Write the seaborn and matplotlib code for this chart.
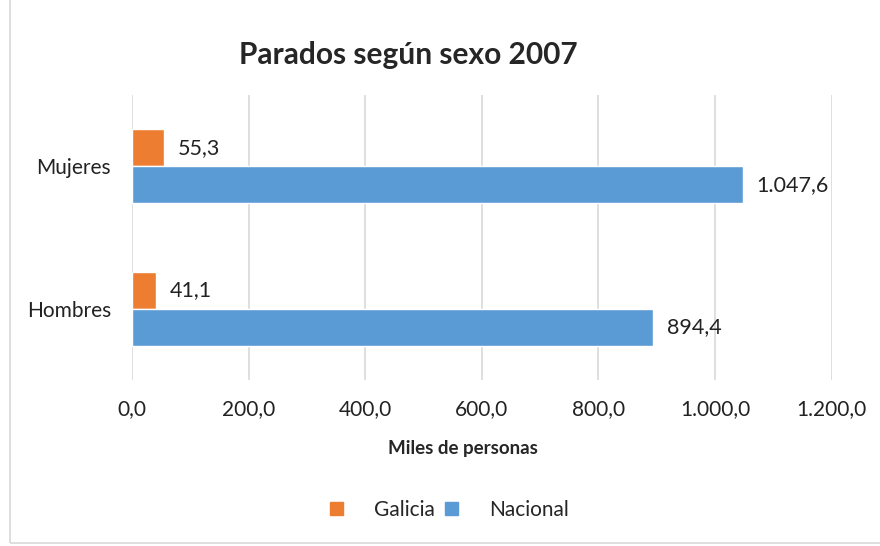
import pandas as pd
import seaborn as sns
import matplotlib.pyplot as plt
from matplotlib.patches import Rectangle

sexos = ['Mujeres', 'Hombres']
galicia = [55.3, 41.1]
nacional = [1047.6, 894.4]
series = ['Galicia', 'Nacional']
ticks = [0, 200, 400, 600, 800, 1000, 1200]


def fmt(v):
    # formato español: 1.047,6
    s = f'{v:,.1f}'
    return s.replace(',', 'X').replace('.', ',').replace('X', '.')


dados = pd.DataFrame({
    'Sexo': sexos * 2,
    'Serie': ['Galicia'] * 2 + ['Nacional'] * 2,
    'Valor': galicia + nacional,
})

sns.set_theme(style="white")
plt.rcParams['font.family'] = ['Lato', 'DejaVu Sans']

fig = plt.figure(figsize=(8.8, 5.46), dpi=100)
ax = fig.add_axes([0.15, 0.304, 0.795, 0.522])

sns.barplot(data=dados, y='Sexo', x='Valor', hue='Serie', order=sexos, hue_order=series,
            palette=['#ED7D31', '#5B9BD5'], orient='h', width=0.52, errorbar=None, ax=ax,
            saturation=1, legend=False)

for cont in ax.containers:
    ax.bar_label(cont, labels=[fmt(v) for v in cont.datavalues], padding=10, fontsize=15.5, color='#222222')

ax.set_xlim(0, 1200)
ax.set_xticks(ticks)
ax.set_xticklabels([fmt(t) for t in ticks], fontsize=15, color='#222222')
ax.tick_params(axis='y', labelsize=15, labelcolor='#222222', length=0, pad=15)
ax.tick_params(axis='x', length=0, pad=14)
ax.set_ylabel('')
ax.set_xlabel('Miles de personas', fontsize=13.5, fontweight='bold')
ax.xaxis.set_label_coords(0.473, -0.21)
ax.xaxis.grid(True, color='#d9d9d9', linewidth=1.2)
ax.set_axisbelow(True)
for s in ax.spines.values():
    s.set_visible(False)

fig.text(0.464, 0.9, 'Parados según sexo 2007', ha='center', va='center', fontsize=21.5, fontweight='bold')

handles = [Rectangle((0, 0), 1, 1, color='#ED7D31'), Rectangle((0, 0), 1, 1, color='#5B9BD5')]
fig.legend(handles, series, loc='center', bbox_to_anchor=(0.511, 0.066), ncol=2, frameon=False,
           fontsize=15, handlelength=0.6, handleheight=0.6, handletextpad=1.5, columnspacing=0.5)

fig.patches.append(Rectangle((10 / 880, 3 / 546), 1.2, 1.2, transform=fig.transFigure,
                             fill=False, edgecolor='#d9d9d9', linewidth=1.2))

plt.savefig('out.png')
plt.close()
